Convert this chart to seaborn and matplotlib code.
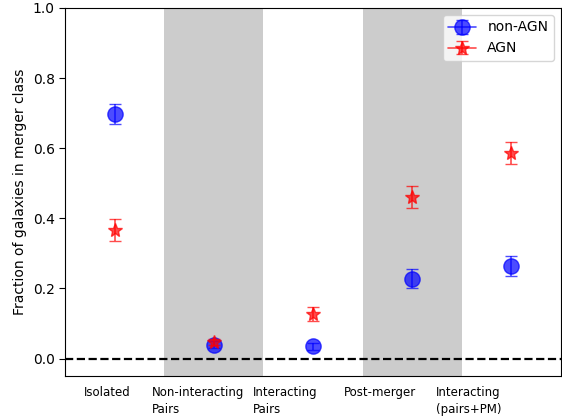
import numpy as np
import matplotlib
matplotlib.use('Agg')
import matplotlib.pyplot as plt
import seaborn as sns

categories = ['Isolated', 'Non-interacting\nPairs', 'Interacting\nPairs',
              'Post-merger', 'Interacting\n(pairs+PM)']
nonagn_frac = [0.697, 0.040, 0.035, 0.228, 0.264]
nonagn_err = [0.028, 0.010, 0.010, 0.027, 0.028]
agn_frac = [0.366, 0.048, 0.126, 0.460, 0.587]
agn_err = [0.031, 0.008, 0.020, 0.031, 0.031]

sns.set_style('ticks', rc={'text.color': 'k', 'axes.labelcolor': 'k',
                           'xtick.color': 'k', 'ytick.color': 'k',
                           'axes.edgecolor': 'k'})
plt.rcParams['font.family'] = ['DejaVu Sans']

fig = plt.figure(figsize=(5.62, 4.17), dpi=100)
ax = fig.add_axes([0.116, 0.098, 0.882, 0.883])

x = np.arange(len(categories))

# shaded bands for pair classes
ax.axvspan(0.5, 1.5, color='0.8', lw=0, zorder=0)
ax.axvspan(2.5, 3.5, color='0.8', lw=0, zorder=0)
ax.axhline(0, color='k', ls='--', lw=1.6, zorder=1)

for i in x:
    ax.errorbar(x[i], nonagn_frac[i], yerr=nonagn_err[i], fmt='-o', color='blue',
                alpha=0.7, markersize=11, capsize=4, lw=1.2,
                label='non-AGN' if i == 0 else None, zorder=3)
    ax.errorbar(x[i], agn_frac[i], yerr=agn_err[i], fmt='-*', color='red',
                alpha=0.7, markersize=10, capsize=4, lw=1.2,
                label='AGN' if i == 0 else None, zorder=4)

ax.set_xlim(-0.5, 4.5)
ax.set_ylim(-0.05, 1.0)
ax.set_yticks([0.0, 0.2, 0.4, 0.6, 0.8, 1.0])
ax.set_xticks([-0.08, 0.84, 1.72, 2.68, 3.57])
ax.set_xticklabels(categories, multialignment='left', fontsize=8.5, linespacing=1.45)
ax.tick_params(axis='x', length=0, pad=7)
ax.tick_params(axis='y', length=4, labelsize=10)
ax.set_ylabel('Fraction of galaxies in merger class', fontsize=10)

ax.legend(loc='upper right', fontsize=10)

plt.savefig('out.png', dpi=100)
